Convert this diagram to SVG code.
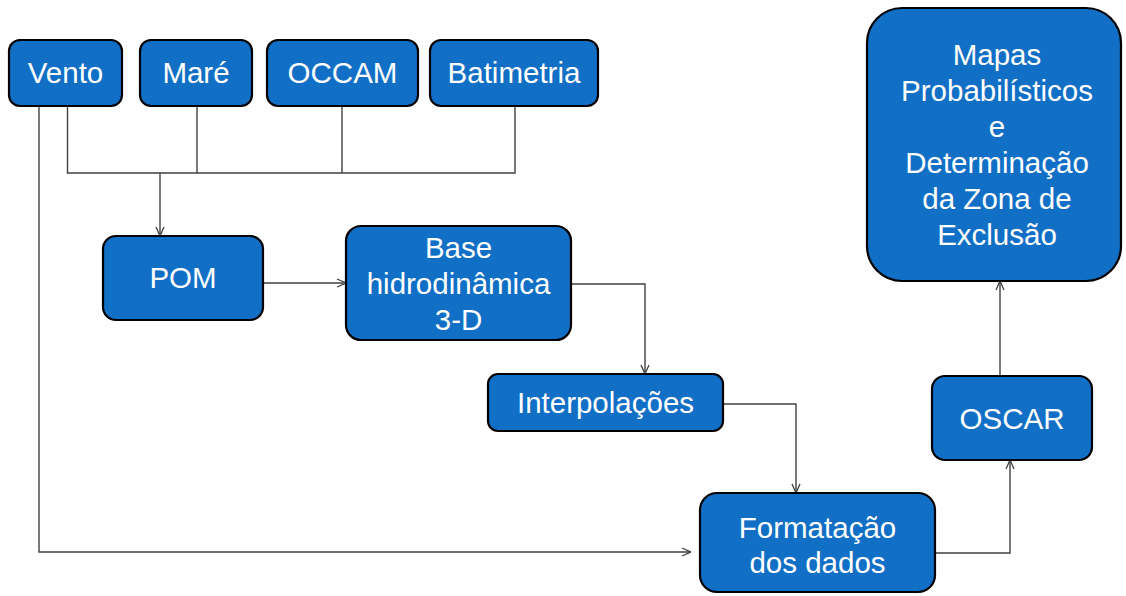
<svg xmlns="http://www.w3.org/2000/svg" width="1126" height="596" viewBox="0 0 1126 596">
<defs>
<marker id="arr" viewBox="0 0 10 10" refX="10" refY="5" markerWidth="10" markerHeight="10" markerUnits="userSpaceOnUse" orient="auto">
<path d="M1,1 L10,5 L1,9" fill="none" stroke="#404040" stroke-width="1.3"/>
</marker>
<style>
.box{fill:#116fc6;stroke:#000;stroke-width:2.2}
.t{font-family:"Liberation Sans",Arial,sans-serif;font-size:29.5px;fill:#fff;text-anchor:middle}
.c{fill:none;stroke:#404040;stroke-width:1.4}
</style>
</defs>
<rect width="1126" height="596" fill="#fff"/>
<g id="connectors">
<path class="c" d="M67.5,106 V173 H515 V106"/>
<path class="c" d="M197,106 V173"/>
<path class="c" d="M342,106 V173"/>
<path class="c" d="M160,173 V236" marker-end="url(#arr)"/>
<path class="c" d="M39,106 V552 H691" marker-end="url(#arr)"/>
<path class="c" d="M263,283 H346" marker-end="url(#arr)"/>
<path class="c" d="M571,284 H645 V374" marker-end="url(#arr)"/>
<path class="c" d="M723,404 H796 V493" marker-end="url(#arr)"/>
<path class="c" d="M935,553 H1010 V460" marker-end="url(#arr)"/>
<path class="c" d="M1000,376 V281" marker-end="url(#arr)"/>
</g>
<g id="vento"><rect class="box" x="9" y="40" width="113" height="66" rx="11"/><text class="t" x="65.5" y="83">Vento</text></g>
<g id="mare"><rect class="box" x="140" y="40" width="112" height="66" rx="11"/><text class="t" x="196" y="83">Maré</text></g>
<g id="occam"><rect class="box" x="267" y="40" width="151" height="66" rx="11"/><text class="t" x="342.5" y="83">OCCAM</text></g>
<g id="batimetria"><rect class="box" x="430" y="40" width="168" height="66" rx="11"/><text class="t" x="514" y="83">Batimetria</text></g>
<g id="pom"><rect class="box" x="103" y="236" width="160" height="84" rx="13"/><text class="t" x="183" y="288">POM</text></g>
<g id="base"><rect class="box" x="346" y="226" width="225" height="114" rx="15"/><text class="t" x="458.5" y="258">Base</text><text class="t" x="458.5" y="294">hidrodinâmica</text><text class="t" x="458.5" y="330">3-D</text></g>
<g id="interpolacoes"><rect class="box" x="488" y="374" width="235" height="57" rx="10"/><text class="t" x="605.5" y="413">Interpolações</text></g>
<g id="formatacao"><rect class="box" x="700" y="493" width="235" height="99" rx="17"/><text class="t" x="817.5" y="538">Formatação</text><text class="t" x="817.5" y="573">dos dados</text></g>
<g id="oscar"><rect class="box" x="932" y="376" width="160" height="84" rx="13"/><text class="t" x="1012" y="429">OSCAR</text></g>
<g id="mapas"><rect class="box" x="867" y="8" width="254" height="273" rx="35"/><text class="t" x="997" y="65">Mapas</text><text class="t" x="997" y="101">Probabilísticos</text><text class="t" x="997" y="137">e</text><text class="t" x="997" y="173">Determinação</text><text class="t" x="997" y="209">da Zona de</text><text class="t" x="997" y="245">Exclusão</text></g>
</svg>
